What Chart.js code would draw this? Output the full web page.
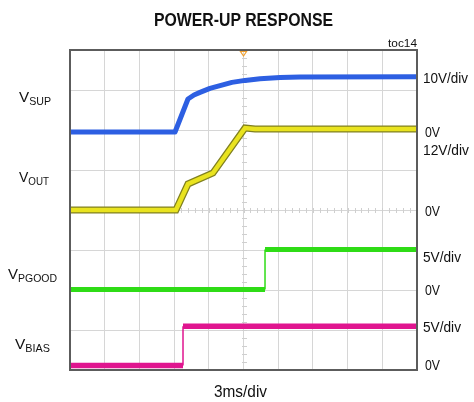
<!DOCTYPE html>
<html><head><meta charset="utf-8">
<script src="https://cdn.jsdelivr.net/npm/chart.js@4.4.1/dist/chart.umd.min.js"></script>
<style>
html,body{margin:0;padding:0;background:#fff;}
#wrap{position:relative;width:474px;height:402px;overflow:hidden;background:#fff;}
canvas{position:absolute;left:0;top:0;}
.t{position:absolute;white-space:nowrap;font-family:"Liberation Sans",Arial,sans-serif;color:#111;transform-origin:0 0;}
.t .s{font-size:10.5px;position:relative;top:3px;}
</style></head><body>
<div id="wrap"><canvas id="c" width="474" height="402"></canvas></div>
<script>
// ---- data (time in ms, values in volts) ----
const xTickValues = [0,3,6,9,12,15,18,21,24,27,30];
const vsupTime  = [0, 9.08, 10.2, 10.72, 11.24, 12.1, 12.97, 14.0, 15.13, 16.43, 18.16, 19.89, 30];
const vsupVolts = [0, 0,    8.25, 9.25,  9.9,   10.9, 11.6,  12.4, 12.9,  13.3,  13.6,  13.75, 13.8];
const voutTime  = [0, 9.16, 10.2, 12.36, 15.13, 16.0, 30];
const voutVolts = [0, 0,    7.8,  11.1,  24.6,  24.3, 24.3];
const pgoodTime  = [0, 16.86, 16.86, 30];
const pgoodVolts = [0, 0,     5.0,   5.0];
const biasTime  = [0, 9.77, 9.77, 30];
const biasVolts = [0, 0,    4.9,  4.9];
const channelNames = ['VSUP','VOUT','VPGOOD','VBIAS'];
const voltsPerDiv = [10, 12, 5, 5];
const scaleLabels = ['10V/div','12V/div','5V/div','5V/div'];
const timeLabel = '3ms/div';

// screen setup of each channel: ground level in divisions from bottom
const groundDiv = [5.95, 4.0, 2.0125, 0.1125];
const DIVS = 8;

function pts(t, v){ return t.map((x,i)=>({x:x, y:v[i]})); }
function chScale(i){
  return {display:false, min:-groundDiv[i]*voltsPerDiv[i], max:(DIVS-groundDiv[i])*voltsPerDiv[i]};
}
const thinVertical = {borderWidth: ctx => (ctx.p0.parsed.x === ctx.p1.parsed.x ? 1.5 : undefined)};

const scopePlugin = {
  id:'scope',
  beforeDatasetsDraw(chart){
    const {ctx, chartArea:a, scales:{x, y}} = chart;
    ctx.save();
    ctx.strokeStyle = '#cfcfcf'; ctx.lineWidth = 1;
    const cx = Math.round(x.getPixelForValue(15))+0.5;
    const cy = Math.round(y.getPixelForValue(4))+0.5;
    ctx.beginPath();
    for(let k=0;k<=50;k++){
      const px = Math.round(x.getPixelForValue(k*0.6))+0.5;
      ctx.moveTo(px, cy-2.5); ctx.lineTo(px, cy+2.5);
    }
    for(let k=0;k<=40;k++){
      const py = Math.round(y.getPixelForValue(k*0.2))+0.5;
      ctx.moveTo(cx-2.5, py); ctx.lineTo(cx+2.5, py);
    }
    ctx.stroke();
    ctx.restore();
  },
  afterDatasetsDraw(chart){
    const {ctx, chartArea:a, scales:{x}} = chart;
    ctx.save();
    ctx.strokeStyle = '#5c5c5c'; ctx.lineWidth = 2;
    ctx.strokeRect(a.left, a.top, a.right-a.left, a.bottom-a.top);
    // trigger marker
    const tx = x.getPixelForValue(15);
    ctx.strokeStyle = '#f0a030'; ctx.lineWidth = 1.2;
    ctx.beginPath();
    ctx.moveTo(tx-3, a.top+1.5); ctx.lineTo(tx+3, a.top+1.5); ctx.lineTo(tx, a.top+6); ctx.closePath();
    ctx.stroke();
    ctx.restore();
  }
};

const grid = {color:'#d6d6d6', lineWidth:1, drawTicks:false};
new Chart(document.getElementById('c'), {
  type:'line',
  data:{datasets:[
    {label:channelNames[0], data:pts(vsupTime,vsupVolts), yAxisID:'ch0', borderColor:'#2d5fe2', borderWidth:5, pointRadius:0, tension:0, borderJoinStyle:'round', order:4},
    {label:channelNames[1]+' edge', data:pts(voutTime,voutVolts), yAxisID:'ch1', borderColor:'#808020', borderWidth:7, pointRadius:0, tension:0, order:3},
    {label:channelNames[1], data:pts(voutTime,voutVolts), yAxisID:'ch1', borderColor:'#e9e31f', borderWidth:4.5, pointRadius:0, tension:0, order:2},
    {label:channelNames[2], data:pts(pgoodTime,pgoodVolts), yAxisID:'ch2', borderColor:'#2fdc16', borderWidth:5, pointRadius:0, tension:0, segment:thinVertical, order:1},
    {label:channelNames[3], data:pts(biasTime,biasVolts), yAxisID:'ch3', borderColor:'#e0158f', borderWidth:5.5, pointRadius:0, tension:0, segment:thinVertical, order:0}
  ]},
  options:{
    responsive:false, animation:false, events:[],
    layout:{padding:{left:70, right:57, top:50, bottom:32}},
    plugins:{legend:{display:false}, tooltip:{enabled:false}, title:{display:false}},
    scales:{
      x:{type:'linear', min:0, max:30, afterBuildTicks:s=>{s.ticks = xTickValues.map(v=>({value:v}));}, ticks:{display:false}, grid:grid, border:{display:false}},
      y:{type:'linear', min:0, max:DIVS, ticks:{display:false, stepSize:1}, grid:grid, border:{display:false}},
      ch0:chScale(0), ch1:chScale(1), ch2:chScale(2), ch3:chScale(3)
    }
  },
  plugins:[scopePlugin]
});

// ---- text ----
const labels = [
  {html:'POWER-UP RESPONSE', x:154, base:26, size:18, bold:true, w:179},
  {html:'toc14', x:388, base:47, size:11, w:29},
  {html:scaleLabels[0], x:423, base:83, size:15, w:45},
  {html:'0V', x:425, base:137, size:15, w:15},
  {html:scaleLabels[1], x:423, base:155, size:15, w:46},
  {html:'0V', x:425, base:215.5, size:15, w:15},
  {html:scaleLabels[2], x:423, base:261.5, size:15, w:38},
  {html:'0V', x:425, base:295, size:15, w:15},
  {html:scaleLabels[3], x:423, base:331.5, size:15, w:38},
  {html:'0V', x:425, base:369.5, size:15, w:15},
  {html:timeLabel, x:214, base:397, size:17, w:53},
  {html:'V<span class="s">SUP</span>', x:19, base:102, size:15, w:32},
  {html:'V<span class="s">OUT</span>', x:19, base:182, size:15, w:30},
  {html:'V<span class="s">PGOOD</span>', x:8, base:279, size:15, w:49},
  {html:'V<span class="s">BIAS</span>', x:15, base:349, size:15, w:35}
];
const wrap = document.getElementById('wrap');
labels.forEach(L=>{
  const d = document.createElement('div');
  d.className = 't';
  d.innerHTML = L.html;
  d.style.fontSize = L.size+'px';
  d.style.lineHeight = L.size+'px';
  if(L.bold) d.style.fontWeight = 'bold';
  d.style.left = L.x+'px';
  d.style.top = (L.base - 0.8465*L.size)+'px';
  wrap.appendChild(d);
  const w = d.getBoundingClientRect().width;
  if(L.w && w>0) d.style.transform = 'scaleX('+(L.w/w).toFixed(3)+')';
});
</script>
</body></html>
